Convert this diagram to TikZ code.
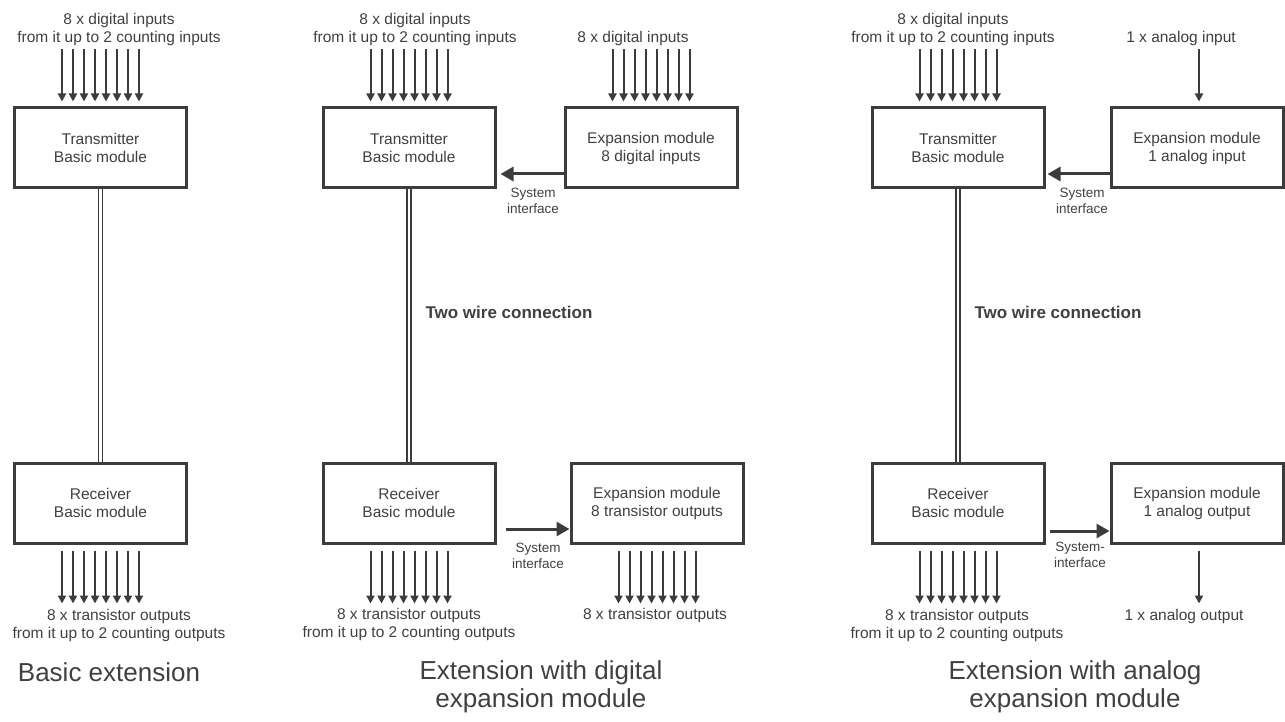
\documentclass[tikz,border=0pt]{standalone}
\usepackage{fontspec}
\setmainfont{Liberation Sans}
\usepackage{tikz}
\usetikzlibrary{calc,arrows.meta}
\definecolor{ink}{HTML}{3C3C3C}
\definecolor{txt}{HTML}{404040}
\tikzset{
  box/.style={draw=ink, line width=3pt, minimum width=172pt, minimum height=80pt, inner sep=0pt, align=center, text=txt, font=\fontsize{15.5}{18}\selectfont},
  pin/.style={draw=ink, line width=2pt, -{Triangle[width=8pt,length=8pt]}},
  iface/.style={draw=ink, line width=3pt, -{Triangle[width=14pt,length=13pt]}},
  wire/.style={draw=ink, double=white, line width=1.6pt, double distance=2.6pt},
  lab/.style={text=txt, align=center, font=\fontsize{15.5}{18}\selectfont},
  labs/.style={text=txt, align=center, font=\fontsize{13.5}{16}\selectfont},
  labb/.style={text=txt, anchor=west, font=\fontsize{17}{20}\bfseries\selectfont},
  title/.style={text=txt, align=center, font=\fontsize{26}{28}\selectfont},
}

\begin{document}
\begin{tikzpicture}[x=1pt, y=-1pt]
  \useasboundingbox (0,0) rectangle (1285,722);
  % basic extension
  \node[box] (p1tx) at (100.5,148) {Transmitter\\Basic module};
  \node[box] (p1rx) at (100.5,503) {Receiver\\Basic module};
  \draw[wire] (p1tx) -- (p1rx);
  \foreach \k in {0,...,7} {
    \draw[pin] ($(p1tx.north)+(\k*11-38.5,-57)$) -- ($(p1tx.north)+(\k*11-38.5,-5)$);
    \draw[pin] ($(p1rx.south)+(\k*11-38.5,6)$) -- ($(p1rx.south)+(\k*11-38.5,59)$);
  }
  \node[lab] (p1in) at (119,29) {8 x digital inputs\\from it up to 2 counting inputs};
  \node[lab] (p1out) at (119,625.5) {8 x transistor outputs\\from it up to 2 counting outputs};
  \node[title] (p1ti) at (109,672) {Basic extension};

  % digital expansion
  \node[box] (p2tx) at (409,148) {Transmitter\\Basic module};
  \node[box] (p2rx) at (409,503) {Receiver\\Basic module};
  \node[box] (p2exin) at (651,148) {Expansion module\\8 digital inputs};
  \node[box] (p2exout) at (657,503) {Expansion module\\8 transistor outputs};
  \draw[wire] (p2tx) -- (p2rx);
  \node[labb] (p2two) at (422,312) {Two wire connection};
  \foreach \k in {0,...,7} {
    \draw[pin] ($(p2tx.north)+(\k*11-38.5,-57)$) -- ($(p2tx.north)+(\k*11-38.5,-5)$);
    \draw[pin] ($(p2exin.north)+(\k*11-38.5,-57)$) -- ($(p2exin.north)+(\k*11-38.5,-5)$);
    \draw[pin] ($(p2rx.south)+(\k*11-38.5,6)$) -- ($(p2rx.south)+(\k*11-38.5,59)$);
    \draw[pin] ($(p2exout.south)+(\k*11-38.5,6)$) -- ($(p2exout.south)+(\k*11-38.5,59)$);
  }
  \draw[iface, shorten >=4pt] ([yshift=-26pt]p2exin.west) -- ([yshift=-26pt]p2tx.east);
  \draw[iface, shorten <=9pt] ([yshift=-26pt]p2rx.east) -- ([yshift=-26pt]p2exout.west);
  \node[labs] (p2si1) at (533,201) {System\\interface};
  \node[labs] (p2si2) at (538,555.5) {System\\interface};
  \node[lab] (p2in) at (415,29) {8 x digital inputs\\from it up to 2 counting inputs};
  \node[lab] (p2exinl) at (633,38) {8 x digital inputs};
  \node[lab] (p2out) at (409,624) {8 x transistor outputs\\from it up to 2 counting outputs};
  \node[lab] (p2exoutl) at (655,615) {8 x transistor outputs};
  \node[title] (p2ti) at (541,686.5) {Extension with digital\\expansion module};

  % analog expansion
  \node[box] (p3tx) at (958,148) {Transmitter\\Basic module};
  \node[box] (p3rx) at (958,503) {Receiver\\Basic module};
  \node[box] (p3exin) at (1197,148) {Expansion module\\1 analog input};
  \node[box] (p3exout) at (1197,503) {Expansion module\\1 analog output};
  \draw[wire] (p3tx) -- (p3rx);
  \node[labb] (p3two) at (971,312) {Two wire connection};
  \foreach \k in {0,...,7} {
    \draw[pin] ($(p3tx.north)+(\k*11-38.5,-57)$) -- ($(p3tx.north)+(\k*11-38.5,-5)$);
    \draw[pin] ($(p3rx.south)+(\k*11-38.5,6)$) -- ($(p3rx.south)+(\k*11-38.5,59)$);
  }
  \draw[pin] ($(p3exin.north)+(2,-57)$) -- ($(p3exin.north)+(2,-5)$);
  \draw[pin] ($(p3exout.south)+(2,6)$) -- ($(p3exout.south)+(2,59)$);
  \draw[iface, shorten >=2pt] ([yshift=-26pt]p3exin.west) -- ([yshift=-26pt]p3tx.east);
  \draw[iface, shorten <=4.5pt] ([yshift=-28pt]p3rx.east) -- ([yshift=-28pt]p3exout.west);
  \node[labs] (p3si1) at (1082,201) {System\\interface};
  \node[labs] (p3si2) at (1080,555) {System-\\interface};
  \node[lab] (p3in) at (953,29) {8 x digital inputs\\from it up to 2 counting inputs};
  \node[lab] (p3exinl) at (1181,38) {1 x analog input};
  \node[lab] (p3out) at (957,625.5) {8 x transistor outputs\\from it up to 2 counting outputs};
  \node[lab] (p3exoutl) at (1184,616) {1 x analog output};
  \node[title] (p3ti) at (1075,686.5) {Extension with analog\\expansion module};
\end{tikzpicture}
\end{document}
